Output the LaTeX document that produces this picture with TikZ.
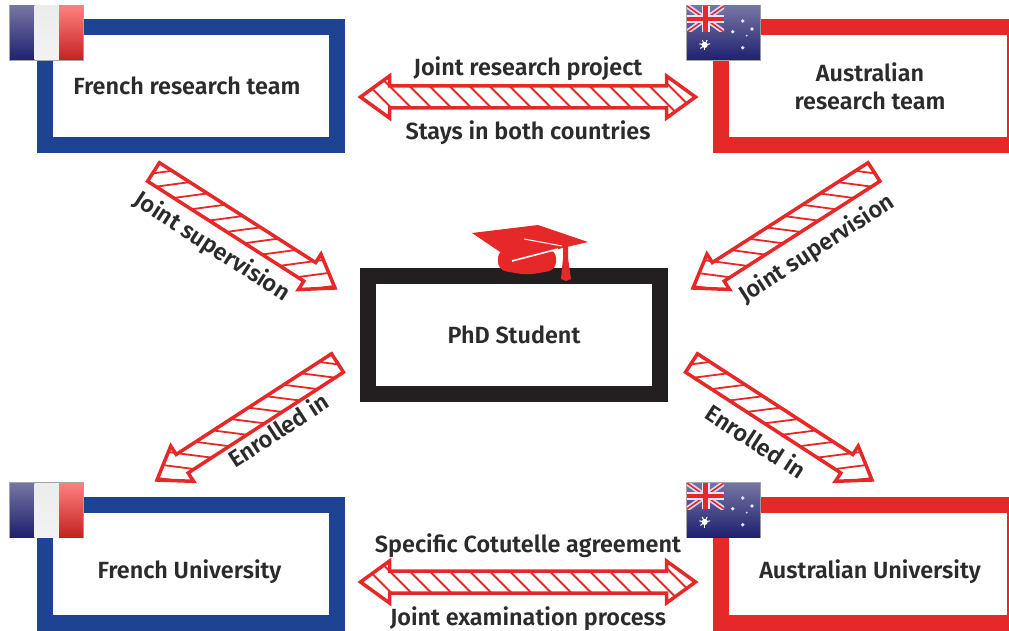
\documentclass[tikz,border=0pt]{standalone}
\usepackage{fontspec}
\setmainfont{Fira Sans}[BoldFont={Fira Sans SemiBold}]
\definecolor{frblue}{HTML}{1E4392}
\definecolor{aured}{HTML}{E62828}
\definecolor{phdblack}{HTML}{231F20}
\definecolor{inkgray}{HTML}{2B2B2B}
\definecolor{flagnavy}{HTML}{1F2070}

\tikzset{
    teambox/.style={draw, fill=white, line width=16pt, minimum width=292pt, minimum height=118pt,
        align=center, text=inkgray, font=\fontsize{23.4}{28}\selectfont\bfseries},
    unibox/.style={teambox, text height=34.5pt, text depth=5pt},
    arrowline/.style={draw=aured, line width=3.5pt, fill=none, line join=miter},
    hatchline/.style={draw=aured, line width=1.8pt},
    arrowlabel/.style={text=inkgray, inner sep=0pt, font=\fontsize{23.4}{28}\selectfont\bfseries},
    frflag/.pic={
        \fill[gray!70] (-1, -1) rectangle (74, 55);
        \shade[top color=blue!20!gray!90, middle color=flagnavy, bottom color=flagnavy] (0, 0) rectangle (24.5, 54);
        \shade[top color=gray!15, middle color=white, bottom color=gray!10] (24.5, 0) rectangle (49, 54);
        \shade[top color=red!50!white, middle color=aured!95!black, bottom color=aured!85!black] (49, 0) rectangle (73, 54);
    },
    auflag/.pic={
        \fill[gray!70] (-1, -1) rectangle (74, 55);
        \shade[top color=blue!20!gray!90, middle color=flagnavy, bottom color=flagnavy] (0, 0) rectangle (73, 54);
        \begin{scope}
            \clip (0, 0) rectangle (37, 26);
            \draw[white!85!blue, line width=5pt] (0, 0) -- (37, 26) (0, 26) -- (37, 0);
            \draw[aured, line width=1.6pt] (0, 0) -- (37, 26) (0, 26) -- (37, 0);
            \draw[white!90!blue, line width=8pt] (18.5, 0) -- (18.5, 26) (0, 13) -- (37, 13);
            \draw[aured, line width=4.5pt] (18.5, 0) -- (18.5, 26) (0, 13) -- (37, 13);
        \end{scope}
        \foreach \sx/\sy/\sr in {55.7/15/1.9, 45.7/25.7/1.9, 65/23/1.9, 59.7/29.7/1, 55.7/41.7/1.9}
            \fill[white!90!blue] (\sx, \sy) circle (\sr);
        \fill[white] (17.7, 39) circle (3);
        \foreach \ray in {0, 51.4, ..., 308}
            \draw[white, line width=1pt] (17.7, 39) -- ++(\ray+90:5.5);
    },
}

% from, to, hatch lean, hatch positions, outline
\newcommand{\hatchbody}[5]{
    \path (#1); \pgfgetlastxy{\tailx}{\taily}
    \path (#2); \pgfgetlastxy{\tipx}{\tipy}
    \pgfmathsetmacro{\arrowangle}{atan2(\tipy-\taily, \tipx-\tailx)}
    \pgfmathsetmacro{\arrowlen}{veclen(\tipx-\tailx, \tipy-\taily)}
    \begin{scope}[shift={(#1)}, rotate=\arrowangle, y=1pt]
        \begin{scope}
            \clip #5;
            \foreach \s in {#4}
                \draw[hatchline] (\s-#3, -22) -- (\s+#3, 22);
        \end{scope}
        \draw[arrowline] #5;
    \end{scope}
}
\newcommand{\hatcharrow}[3]{
    \hatchbody{#1}{#2}{#3}{-40, -19, ..., 260}{(0, -11) -- (\arrowlen-30, -11) -- (\arrowlen-30, -21) -- (\arrowlen, 0) -- (\arrowlen-30, 21) -- (\arrowlen-30, 11) -- (0, 11) -- cycle}
}
\newcommand{\hatchboth}[2]{
    \hatchbody{#1}{#2}{-22}{-40, -20, ..., 400}{(0, 0) -- (29, -21) -- (29, -11) -- (\arrowlen-29, -11) -- (\arrowlen-29, -21) -- (\arrowlen, 0) -- (\arrowlen-29, 21) -- (\arrowlen-29, 11) -- (29, 11) -- (29, 21) -- cycle}
}

\begin{document}
\begin{tikzpicture}[x=1pt, y=-1pt]
    \clip (0, 0) rectangle (1009, 631);

    \node[teambox, draw=frblue, text height=18pt] (frteam) at (191, 86) {\hspace*{-8pt}French research team};
    \node[teambox, draw=aured, minimum width=294pt] (auteam) at (868, 86) {\hspace*{4pt}Australian\\\hspace*{4pt}research team};
    \node[unibox, draw=frblue] (fruni) at (191, 564) {\hspace*{-3pt}French University};
    \node[unibox, draw=aured, minimum width=294pt] (auuni) at (868, 564) {\hspace*{4pt}Australian University};
    \node[teambox, draw=phdblack] (phd) at (514, 335) {PhD Student};

    \pic at (10, 6) {frflag};
    \pic at (687, 6) {auflag};
    \pic at (10, 483) {frflag};
    \pic at (687, 483) {auflag};

    % mortarboard
    \fill[aured, rounded corners=8pt] (498, 250) -- (556, 250) -- (556, 270) -- (527, 275) -- (498, 270) -- cycle;
    \fill[aured] (472, 233) -- (538, 225) -- (588, 242) -- (512, 260) -- cycle;
    \draw[white, line width=1.6pt] (512, 261) -- (558, 249);
    \draw[white, line width=1pt] (524, 239) -- (562, 246);
    \fill[aured] (563, 245) -- (568, 245) -- (568, 258) -- (571, 279) -- (566, 281) -- (561, 279) -- (563, 258) -- cycle;

    \coordinate (topleft) at (360.5, 97);
    \coordinate (topright) at (695.5, 97);
    \coordinate (botleft) at (360.5, 582);
    \coordinate (botright) at (695.5, 582);
    \coordinate (frteamout) at (153.5, 172);
    \coordinate (phdinfr) at (335, 288);
    \coordinate (auteamout) at (874, 172);
    \coordinate (phdinau) at (693, 288);
    \coordinate (phdoutfr) at (337.5, 363);
    \coordinate (fruniin) at (157, 480);
    \coordinate (phdoutau) at (691.5, 363);
    \coordinate (auuniin) at (872, 480);

    \hatchboth{topleft}{topright}
    \hatchboth{botleft}{botright}
    \hatcharrow{frteamout}{phdinfr}{26}
    \hatcharrow{auteamout}{phdinau}{-26}
    \hatcharrow{phdoutfr}{fruniin}{-26}
    \hatcharrow{phdoutau}{auuniin}{26}

    \node[arrowlabel] (jointproject) at (528, 69) {Joint research project};
    \node[arrowlabel] (stays) at (528, 133) {Stays in both countries};
    \node[arrowlabel] (agreement) at (528, 546) {Specific Cotutelle agreement};
    \node[arrowlabel] (examination) at (528, 619) {Joint examination process};
    \node[arrowlabel, rotate=-33] (superfr) at (212, 247) {Joint supervision};
    \node[arrowlabel, rotate=33] (superau) at (817, 249) {Joint supervision};
    \node[arrowlabel, rotate=33] (enrolfr) at (278, 430) {Enrolled in};
    \node[arrowlabel, rotate=-33] (enrolau) at (756, 441) {Enrolled in};
\end{tikzpicture}
\end{document}
